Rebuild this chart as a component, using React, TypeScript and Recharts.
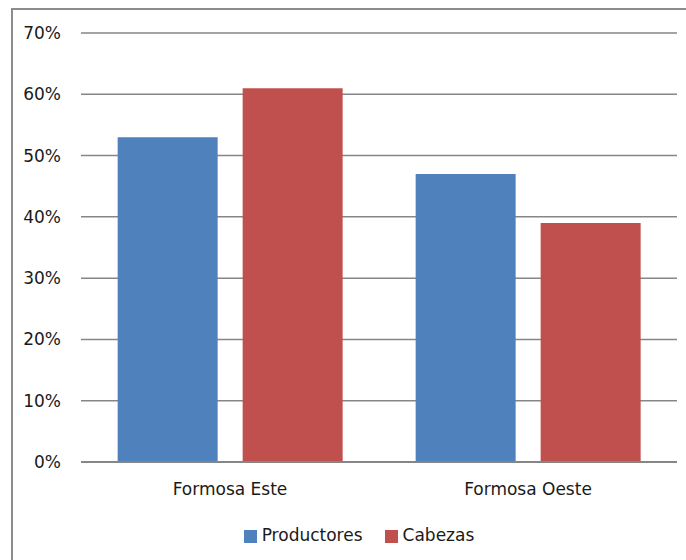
import React from 'react';
import { BarChart, Bar, XAxis, YAxis, CartesianGrid, Legend } from 'recharts';

const categories = ['Formosa Este', 'Formosa Oeste'];
const productores = [53, 47];
const cabezas = [61, 39];
const yTicks = [0, 10, 20, 30, 40, 50, 60, 70];
const seriesOrder = ['Productores', 'Cabezas'];

const data = categories.map((c, i) => ({ name: c, Productores: productores[i], Cabezas: cabezas[i] }));

const font = '"DejaVu Sans", sans-serif';

export default function App() {
  return (
    <div style={{ position: 'absolute', left: 0, top: 0, width: 686, height: 560, background: '#fff', overflow: 'hidden' }}>
      <div style={{ position: 'absolute', left: 11, top: 8, width: 700, height: 600, borderLeft: '2px solid #8c8c8c', borderTop: '2px solid #8c8c8c' }} />
      <BarChart
        width={686}
        height={560}
        data={data}
        margin={{ top: 33, right: 9, left: 0, bottom: 5 }}
        barCategoryGap="12.3%"
        barGap={25}
        style={{ fontFamily: font }}
      >
        <CartesianGrid vertical={false} stroke="#868686" strokeWidth={1.5} />
        <XAxis
          dataKey="name"
          height={63}
          tickLine={false}
          axisLine={{ stroke: '#868686', strokeWidth: 2 }}
          tickMargin={15}
          tick={{ fill: '#1a1a1a', fontSize: 17, fontFamily: font }}
        />
        <YAxis
          width={81}
          domain={[0, 70]}
          ticks={yTicks}
          interval={0}
          tickFormatter={(v: number) => `${v}%`}
          axisLine={false}
          tickLine={false}
          tickSize={0}
          tickMargin={20}
          tick={{ fill: '#1a1a1a', fontSize: 17, fontFamily: font }}
        />
        <Legend
          verticalAlign="bottom"
          height={30}
          iconType="square"
          iconSize={13}
          itemSorter={(item: any) => seriesOrder.indexOf(item.dataKey ?? item.value)}
          wrapperStyle={{ fontFamily: font, fontSize: 17, color: '#1a1a1a', left: 0, width: 686, paddingLeft: 42, boxSizing: 'border-box' }}
          formatter={(value: string) => (
            <span style={{ color: '#1a1a1a', marginLeft: 1, marginRight: value === 'Productores' ? 12 : 0 }}>{value}</span>
          )}
        />
        <Bar dataKey="Productores" fill="#4F81BD" isAnimationActive={false} />
        <Bar dataKey="Cabezas" fill="#C0504D" isAnimationActive={false} />
      </BarChart>
    </div>
  );
}
